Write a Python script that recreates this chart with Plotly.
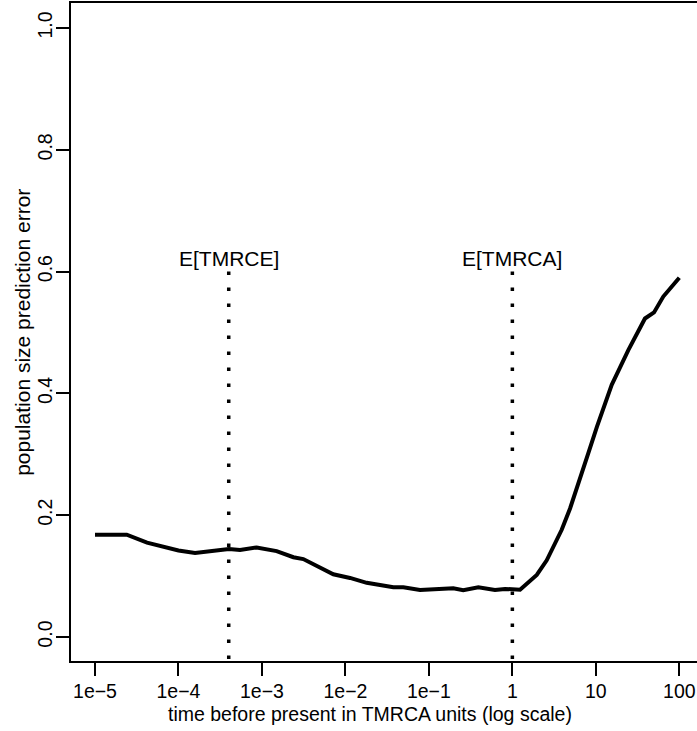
import numpy as np
import plotly.graph_objects as go

# time before present (TMRCA units) and population size prediction error
time_tmrca = [1.0e-5, 2.4e-5, 4.2e-5, 6.0e-5, 1.0e-4, 1.58e-4, 2.61e-4, 4.03e-4,
              5.46e-4, 8.65e-4, 1.50e-3, 2.38e-3, 3.13e-3, 4.97e-3, 7.16e-3,
              1.135e-2, 1.80e-2, 3.75e-2, 4.94e-2, 7.83e-2, 0.136, 0.196, 0.258,
              0.391, 0.619, 0.817, 1.236, 1.96, 2.58, 3.90, 4.91, 6.47, 8.13,
              10.3, 15.5, 24.5, 38.8, 49.8, 64.3, 100.0]
pred_error = [0.168, 0.168, 0.155, 0.150, 0.142, 0.138, 0.141, 0.1445,
              0.143, 0.147, 0.141, 0.131, 0.128, 0.115, 0.103,
              0.097, 0.089, 0.0816, 0.0816, 0.0772, 0.078, 0.080, 0.077,
              0.0816, 0.0772, 0.079, 0.0775, 0.102, 0.126, 0.176, 0.211, 0.263, 0.302,
              0.345, 0.414, 0.471, 0.523, 0.533, 0.559, 0.590]

# reference times marked by vertical dotted lines
marker_names = ["E[TMRCE]", "E[TMRCA]"]
marker_times = [4.0e-4, 1.0]
marker_top = 0.6

x_tickvals = [1e-5, 1e-4, 1e-3, 1e-2, 1e-1, 1, 10, 100]
x_ticktext = ["1e\u22125", "1e\u22124", "1e\u22123", "1e\u22122", "1e\u22121", "1", "10", "100"]
y_tickvals = [0.0, 0.2, 0.4, 0.6, 0.8, 1.0]
y_ticktext = ["0.0", "0.2", "0.4", "0.6", "0.8", "1.0"]

x_title = "time before present in TMRCA units (log scale)"
y_title = "population size prediction error"

FONT = "Liberation Sans, Arial, Helvetica, sans-serif"

fig = go.Figure()

for t in marker_times:
    fig.add_trace(go.Scatter(
        x=[t, t], y=[marker_top, -0.05], mode="lines",
        line=dict(color="black", width=3.5, dash="3.5px,12.5px"),
        hoverinfo="skip", showlegend=False))

fig.add_trace(go.Scatter(
    x=time_tmrca, y=pred_error, mode="lines",
    line=dict(color="black", width=4), showlegend=False))

for name, t in zip(marker_names, marker_times):
    fig.add_annotation(x=np.log10(t), y=0.622, xref="x", yref="y",
                       text=name, showarrow=False, xanchor="center", yanchor="middle",
                       font=dict(family=FONT, size=21, color="black"))

# axis titles
fig.add_annotation(x=0.4776, y=-0.0805, xref="paper", yref="paper",
                   text=x_title, showarrow=False, xanchor="center", yanchor="middle",
                   font=dict(family=FONT, size=19.5, color="black"))
fig.add_annotation(x=-0.0785, y=0.5, xref="paper", yref="paper",
                   text=y_title, showarrow=False, textangle=-90,
                   xanchor="center", yanchor="middle",
                   font=dict(family=FONT, size=21, color="black"))

fig.update_layout(
    width=697, height=731,
    margin=dict(l=71, r=0, t=3, b=70, autoexpand=False),
    paper_bgcolor="white", plot_bgcolor="white",
    font=dict(family=FONT, size=19.5, color="black"),
    showlegend=False,
)

fig.update_xaxes(
    type="log", range=[-5.2875, 2.212],
    tickmode="array", tickvals=x_tickvals, ticktext=x_ticktext,
    ticks="outside", ticklen=13, tickwidth=2, tickcolor="black",
    showline=True, linewidth=2, linecolor="black", mirror=True,
    showgrid=False, zeroline=False,
    tickfont=dict(size=19.5), ticklabelstandoff=-1,
    automargin=False,
)

fig.update_yaxes(
    range=[-0.0394, 1.041],
    tickmode="array", tickvals=y_tickvals, ticktext=y_ticktext, tickangle=-90,
    ticks="outside", ticklen=13, tickwidth=2, tickcolor="black",
    showline=True, linewidth=2, linecolor="black", mirror=False,
    showgrid=False, zeroline=False,
    tickfont=dict(size=19.5), ticklabelstandoff=-4,
    automargin=False,
)

fig.write_html("out.html")
